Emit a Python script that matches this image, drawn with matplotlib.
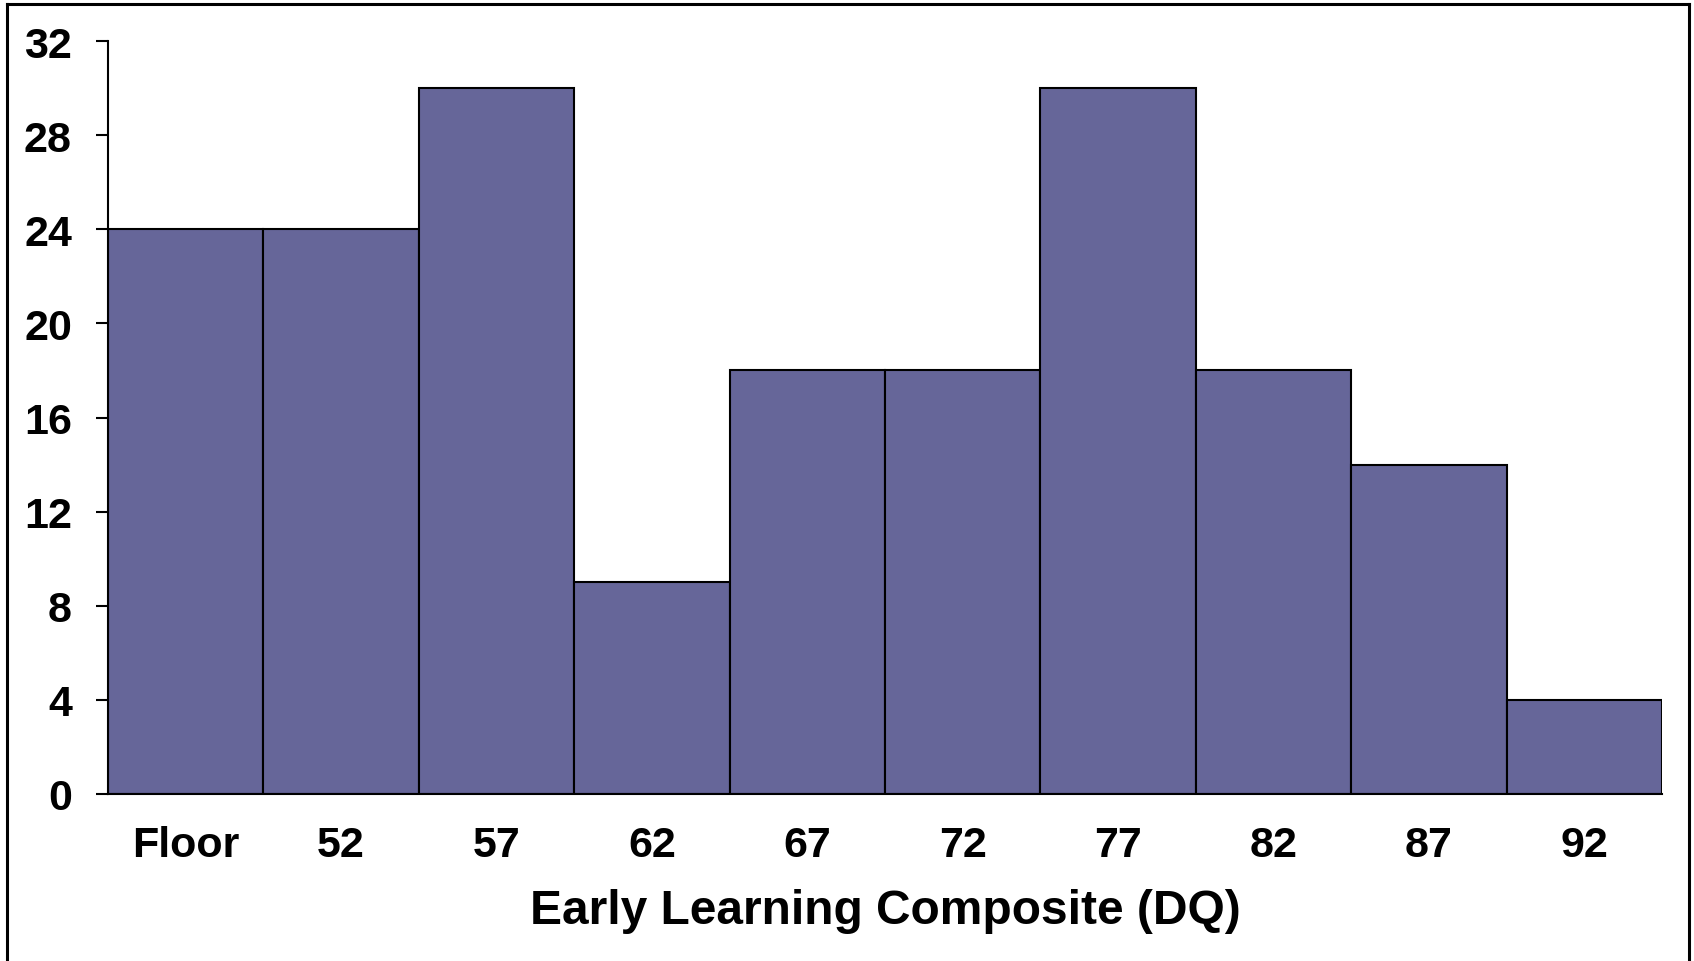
import matplotlib.pyplot as plt
from matplotlib.lines import Line2D

# histogram of Early Learning Composite scores
categories = ["Floor", "52", "57", "62", "67", "72", "77", "82", "87", "92"]
counts = [24, 24, 30, 9, 18, 18, 30, 18, 14, 4]
yticks = [0, 4, 8, 12, 16, 20, 24, 28, 32]

plt.rcParams['font.family'] = ['Liberation Sans', 'DejaVu Sans']
plt.rcParams['font.weight'] = 'bold'

fig = plt.figure(figsize=(16.94, 9.62), dpi=100)
ax = fig.add_axes([0.0638, 0.1736, 0.9173, 0.7827])

x = range(len(categories))
ax.bar(x, counts, width=1.0, color='#666699', edgecolor='black', linewidth=1.5)

ax.set_xlim(-0.5, len(categories) - 0.5)
ax.set_ylim(0, 32)
ax.set_yticks(yticks)
ax.set_yticklabels([str(v) for v in yticks], fontsize=31, fontweight='bold')
ax.set_xticks(list(x))
ax.set_xticklabels(categories, fontsize=31, fontweight='bold')
ax.tick_params(axis='y', length=9, width=1.5, pad=17)
ax.tick_params(axis='x', length=0, pad=22)

for s in ['top', 'right']:
    ax.spines[s].set_visible(False)
ax.spines['left'].set_linewidth(1.5)
ax.spines['bottom'].set_linewidth(1.5)

ax.set_xlabel("Early Learning Composite (DQ)", fontsize=34.5, fontweight='bold', labelpad=17)

# outer frame (no bottom edge)
fx0, fx1, fy = 7 / 1694, 1689 / 1694, 1 - 5 / 962
fig.add_artist(Line2D([fx0, fx0], [0, fy], color='black', lw=2.2, transform=fig.transFigure))
fig.add_artist(Line2D([fx0, fx1], [fy, fy], color='black', lw=2.2, transform=fig.transFigure))
fig.add_artist(Line2D([fx1, fx1], [0, fy], color='black', lw=2.2, transform=fig.transFigure))

fig.savefig('out.png', dpi=100)
